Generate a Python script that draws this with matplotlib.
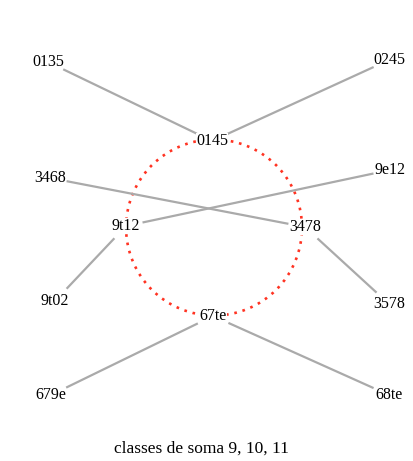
import numpy as np
import matplotlib.pyplot as plt
from matplotlib.patches import Circle

# ==============================
# Data
# ==============================

labels = ['0135', '0245', '0145', '3468', '9e12', '9t12', '3478',
          '9t02', '3578', '67te', '679e', '68te']

# node positions (pixel layout of the diagram)
node_x = [48, 389, 212, 50, 390, 126, 305, 55, 389, 213, 51, 389]
node_y = [62, 60, 141, 178, 170, 226, 227, 301, 304, 316, 395, 395]

edges = [('0135', '0145'), ('0245', '0145'), ('3468', '3478'),
         ('9e12', '9t12'), ('9t02', '9t12'), ('3578', '3478'),
         ('679e', '67te'), ('68te', '67te')]

title = 'classes de soma 9, 10, 11'

# ==============================
# Plot
# ==============================

plt.rcParams['font.family'] = ['Liberation Serif', 'DejaVu Serif']

fig = plt.figure(figsize=(4.13, 4.61), dpi=100)
ax = fig.add_axes([0, 0, 1, 1])
ax.set_xlim(0, 413)
ax.set_ylim(461, 0)
ax.axis('off')

pos = {l: np.array([x, y], dtype=float) for l, x, y in zip(labels, node_x, node_y)}

# circle through the four inner nodes
inner = ['0145', '9t12', '3478', '67te']
cx = np.mean([pos[l][0] for l in inner])
cy = np.mean([pos[l][1] for l in inner])
r = 88
ax.add_patch(Circle((cx, cy), r, fill=False, edgecolor='#ff3322',
                    linestyle=(0, (1, 2.2)), linewidth=1.9))

# edges, shortened so they stop before the labels
gap = 18
for a, b in edges:
    p, q = pos[a], pos[b]
    d = (q - p) / np.linalg.norm(q - p)
    s, e = p + d * gap, q - d * gap
    ax.plot([s[0], e[0]], [s[1], e[1]], color='#aaaaaa', linewidth=1.6)

for l in labels:
    ax.text(pos[l][0], pos[l][1], l, fontsize=11.5, ha='center', va='center',
            color='black',
            bbox=dict(facecolor='white', edgecolor='none', pad=0.3)
            if l in inner else None)

ax.text(201, 449, title, fontsize=12.5, ha='center', va='center')

plt.savefig('out.png', dpi=100)
